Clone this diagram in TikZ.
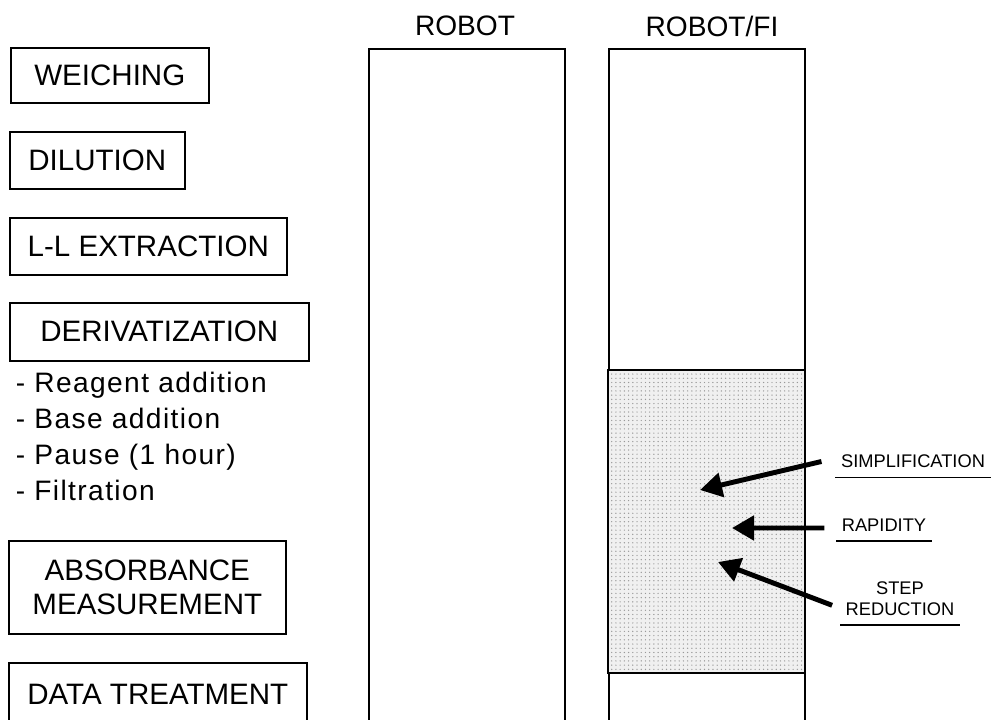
\documentclass[tikz,border=0pt]{standalone}
\usepackage{fontspec}
\setmainfont{Liberation Sans}
\usetikzlibrary{arrows.meta,positioning,patterns}

\begin{document}
\begin{tikzpicture}[x=0.025cm, y=-0.025cm, line width=1.1pt,
  stage node/.style={draw, inner sep=0pt, anchor=north west, align=center, font=\fontsize{21}{24}\selectfont},
  column/.style={draw, inner sep=0pt, anchor=north west, minimum width=4.9cm, minimum height=17.5cm},
  head/.style={font=\fontsize{20}{24}\selectfont},
  tag/.style={font=\fontsize{13}{15}\selectfont, align=center, inner xsep=0.12cm, inner ysep=0.22cm},
  big arrow/.style={line width=3.5pt, -{Triangle[length=0.55cm, width=0.6cm]}}]
\useasboundingbox (0,0) rectangle (993,720);
% steps of the procedure
\node[stage node, minimum width=4.95cm, minimum height=1.375cm] (weigh) at (10,47) {WEICHING};
\node[stage node, minimum width=4.375cm, minimum height=1.425cm] (dil) at (9,131) {DILUTION};
\node[stage node, minimum width=6.925cm, minimum height=1.425cm] (ext) at (9,217) {L-L EXTRACTION};
\node[stage node, minimum width=7.475cm, minimum height=1.45cm] (deriv) at (9,302) {DERIVATIZATION};
\node[anchor=north west, inner sep=0pt, align=left, font=\fontsize{20}{25.6}\selectfont\addfontfeature{LetterSpace=5}] (substeps) at (15,371)
  {- Reagent addition\\- Base addition\\- Pause (1 hour)\\- Filtration};
\node[stage node, minimum width=6.925cm, minimum height=2.325cm, font=\fontsize{21}{24.2}\selectfont] (abs) at (8,540) {ABSORBANCE\\MEASUREMENT};
\node[stage node, minimum width=7.45cm, minimum height=1.6cm] (data) at (8,662) {DATA TREATMENT};
% the two columns
\node[column] (robot) at (368,48) {};
\node[column] (fi) at (608,48) {};
\node[head] (robot title) at (465,26) {ROBOT};
\node[head] (fi title) at (712,26) {ROBOT/FI};
\draw[preaction={fill=gray!12}, pattern=dots, pattern color=gray!80] (608,370) rectangle (805,673);
% arrows
\coordinate (simp tip) at (700,490);
\coordinate (rap tip) at (732,528);
\coordinate (step tip) at (718,562);
\node[tag] (simp) at (913,461.5) {SIMPLIFICATION};
\node[tag] (rap) at (884,525) {RAPIDITY};
\node[tag] (step) at (900,598.5) {STEP\\REDUCTION};
\draw (simp.south west) -- (simp.south east);
\draw (rap.south west) -- (rap.south east);
\draw (step.south west) -- (step.south east);
\draw[big arrow] ([xshift=-0.35cm]simp.west) -- (simp tip);
\draw[big arrow] ([xshift=-0.3cm,yshift=-0.075cm]rap.west) -- (rap tip);
\draw[big arrow] ([xshift=-0.2cm,yshift=-0.17cm]step.west) -- (step tip);
\end{tikzpicture}
\end{document}
